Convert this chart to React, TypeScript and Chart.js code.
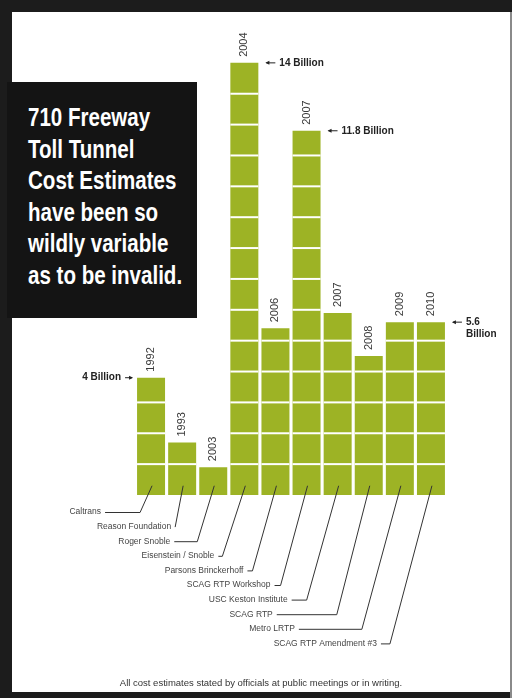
import React, { useEffect, useRef } from "react";
import { Chart, registerables } from "chart.js";

Chart.register(...registerables);

// ---- data ----
const years = ["1992", "1993", "2003", "2004", "2006", "2007", "2007", "2008", "2009", "2010"];
const costBillions = [3.8, 1.7, 0.9, 14, 5.4, 11.8, 5.9, 4.5, 5.6, 5.6];
const sources = [
  "Caltrans",
  "Reason Foundation",
  "Roger Snoble",
  "Eisenstein / Snoble",
  "Parsons Brinckerhoff",
  "SCAG RTP Workshop",
  "USC Keston Institute",
  "SCAG RTP",
  "Metro LRTP",
  "SCAG RTP Amendment #3",
];
const calloutBars = [0, 3, 5, 9];
const calloutTexts = [["4 Billion"], ["14 Billion"], ["11.8 Billion"], ["5.6", "Billion"]];
const titleLines = [
  "710 Freeway",
  "Toll Tunnel",
  "Cost Estimates",
  "have been so",
  "wildly variable",
  "as to be invalid.",
];
const footnote = "All cost estimates stated by officials at public meetings or in writing.";

// ---- layout (styles, not data) ----
const kneeOffset = [-11, -7, -16, -22, -23, -26, -31, -32, -38, -41];
const textEndOffset = [-50, -11, -43, -30, -32, -36, -50, -96, -105, -54];
const BAR_COLOR = "#9db325";

const annotate = {
  id: "annotate",
  afterDatasetsDraw(chart: any) {
    const ctx = chart.ctx as CanvasRenderingContext2D;
    const meta = chart.getDatasetMeta(0);
    const y = chart.scales.y;
    ctx.save();
    // white cell dividers
    meta.data.forEach((bar: any, i: number) => {
      const v = costBillions[i];
      const half = bar.width / 2;
      ctx.strokeStyle = "#ffffff";
      ctx.lineWidth = 2;
      for (let k = 1; k < v; k++) {
        const py = y.getPixelForValue(k);
        ctx.beginPath();
        ctx.moveTo(bar.x - half, py);
        ctx.lineTo(bar.x + half, py);
        ctx.stroke();
      }
    });
    // year labels
    ctx.fillStyle = "#3a3a3a";
    ctx.font = "11px 'Liberation Sans', Arial, sans-serif";
    meta.data.forEach((bar: any, i: number) => {
      ctx.save();
      ctx.translate(bar.x, bar.y - 6);
      ctx.rotate(-Math.PI / 2);
      ctx.textAlign = "left";
      ctx.textBaseline = "middle";
      ctx.fillText(years[i], 0, 0);
      ctx.restore();
    });
    // callouts
    ctx.font = "bold 10px 'Liberation Sans', Arial, sans-serif";
    ctx.fillStyle = "#222";
    ctx.strokeStyle = "#222";
    ctx.lineWidth = 1;
    calloutBars.forEach((bi, j) => {
      const bar = meta.data[bi];
      const half = bar.width / 2;
      const cy = bar.y;
      const lines = calloutTexts[j];
      if (bi === 0) {
        const tip = bar.x - half - 5;
        const tail = tip - 7;
        ctx.beginPath();
        ctx.moveTo(tail, cy);
        ctx.lineTo(tip, cy);
        ctx.stroke();
        ctx.beginPath();
        ctx.moveTo(tip + 1, cy);
        ctx.lineTo(tip - 3, cy - 2);
        ctx.lineTo(tip - 3, cy + 2);
        ctx.closePath();
        ctx.fill();
        ctx.textAlign = "right";
        ctx.textBaseline = "middle";
        lines.forEach((t, k) => ctx.fillText(t, tail - 4, cy + k * 12));
      } else {
        const tip = bar.x + half + 8;
        const tail = tip + 9;
        ctx.beginPath();
        ctx.moveTo(tip, cy);
        ctx.lineTo(tail, cy);
        ctx.stroke();
        ctx.beginPath();
        ctx.moveTo(tip - 1, cy);
        ctx.lineTo(tip + 3, cy - 2);
        ctx.lineTo(tip + 3, cy + 2);
        ctx.closePath();
        ctx.fill();
        ctx.textAlign = "left";
        ctx.textBaseline = "middle";
        lines.forEach((t, k) => ctx.fillText(t, tail + 4, cy + k * 12));
      }
    });
    // source labels with leader lines
    ctx.font = "8.5px 'Liberation Sans', Arial, sans-serif";
    ctx.fillStyle = "#444";
    ctx.strokeStyle = "#333";
    ctx.lineWidth = 1;
    const yTop = y.getPixelForValue(0.3);
    meta.data.forEach((bar: any, i: number) => {
      const ly = chart.chartArea.bottom + 17 + i * 14.6;
      const textEnd = bar.x + textEndOffset[i];
      const start = textEnd + 4;
      const knee = bar.x + kneeOffset[i];
      ctx.textAlign = "right";
      ctx.textBaseline = "middle";
      ctx.fillText(sources[i], textEnd, ly);
      ctx.beginPath();
      if (knee > start) {
        ctx.moveTo(start, ly + 0.5);
        ctx.lineTo(knee, ly + 0.5);
      } else {
        ctx.moveTo(knee, ly + 0.5);
      }
      ctx.lineTo(bar.x + 1, yTop);
      ctx.stroke();
    });
    ctx.restore();
  },
};

export default function App() {
  const ref = useRef<HTMLCanvasElement | null>(null);
  useEffect(() => {
    if (!ref.current) return;
    const chart = new Chart(ref.current, {
      type: "bar",
      data: {
        labels: years.map((yr, i) => `${yr} ${sources[i]}`),
        datasets: [
          {
            data: costBillions,
            backgroundColor: BAR_COLOR,
            borderWidth: 0,
            categoryPercentage: 0.9,
            barPercentage: 1,
          },
        ],
      },
      options: {
        animation: false,
        responsive: false,
        devicePixelRatio: 1,
        layout: { padding: { left: 135.5, right: 65.5, top: 32, bottom: 203 } },
        plugins: { legend: { display: false }, tooltip: { enabled: false }, title: { display: false } },
        scales: {
          x: { display: false },
          y: { display: false, min: 0, max: 15 },
        },
      },
      plugins: [annotate],
    });
    return () => chart.destroy();
  }, []);

  return (
    <div style={{ position: "absolute", left: 0, top: 0, width: 512, height: 698, background: "#1c1c1c", overflow: "hidden" }}>
      <div style={{ position: "absolute", left: 12, top: 12, width: 498, height: 680, background: "#ffffff" }} />
      <div style={{ position: "absolute", left: 510, top: 12, width: 2, height: 686, background: "#8a8a8a" }} />
      <canvas ref={ref} width={512} height={698} style={{ position: "absolute", left: 0, top: 0, width: 512, height: 698 }} />
      <div
        style={{
          position: "absolute",
          left: 7,
          top: 82,
          width: 190,
          height: 236,
          background: "#141414",
          overflow: "hidden",
        }}
      >
        <div
          style={{
            position: "absolute",
            left: 21,
            top: 20,
            color: "#ffffff",
            fontFamily: "'Liberation Sans', Arial, sans-serif",
            fontWeight: "bold",
            fontSize: 26,
            lineHeight: "31.5px",
            whiteSpace: "nowrap",
            transform: "scaleX(0.79)",
            transformOrigin: "0 0",
          }}
        >
          {titleLines.map((t, i) => (
            <div key={i}>{t}</div>
          ))}
        </div>
      </div>
      <div
        style={{
          position: "absolute",
          left: 12,
          width: 498,
          top: 677,
          textAlign: "center",
          fontFamily: "'Liberation Sans', Arial, sans-serif",
          fontSize: 9.5,
          color: "#333",
        }}
      >
        {footnote}
      </div>
    </div>
  );
}
